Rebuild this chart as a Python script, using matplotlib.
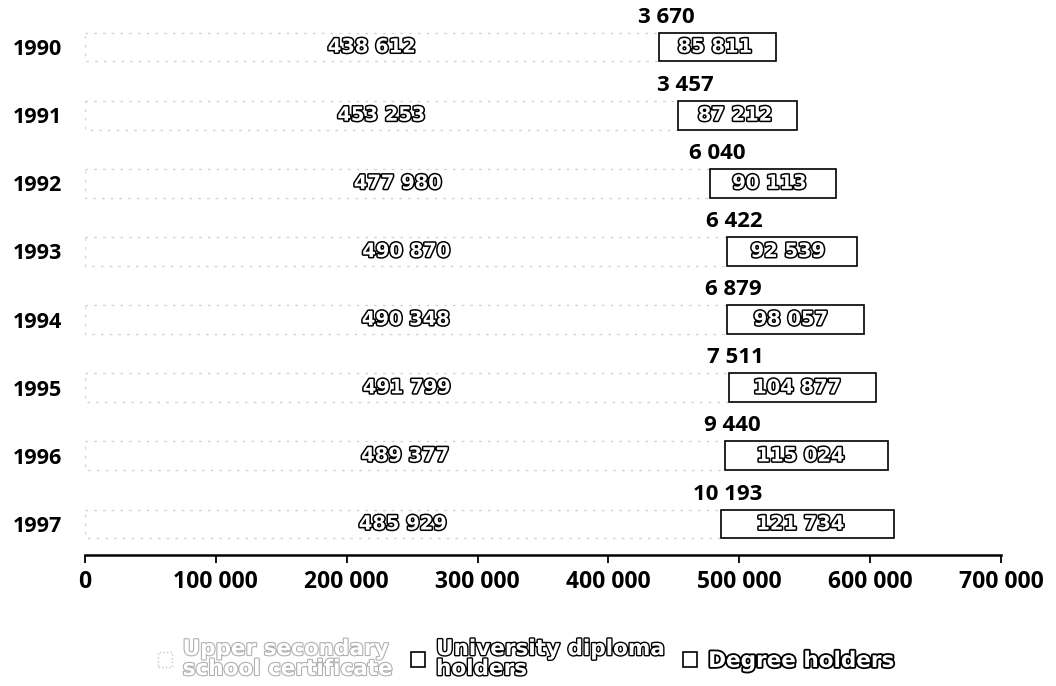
import matplotlib.pyplot as plt
import matplotlib.patheffects as pe
from matplotlib.patches import Patch

years = ["1990", "1991", "1992", "1993", "1994", "1995", "1996", "1997"]
upper_secondary = [438612, 453253, 477980, 490870, 490348, 491799, 489377, 485929]
university_diploma = [85811, 87212, 90113, 92539, 98057, 104877, 115024, 121734]
degree_holders = [3670, 3457, 6040, 6422, 6879, 7511, 9440, 10193]

xticks = [0, 100000, 200000, 300000, 400000, 500000, 600000, 700000]


def spaced(n):
    # thousands separated by a space
    return f"{n:,}".replace(",", " ")


plt.rcParams['font.family'] = ['Open Sans', 'DejaVu Sans']
plt.rcParams['font.weight'] = 'bold'
hollow_font = 'DejaVu Sans'

fig = plt.figure(figsize=(10.56, 6.86), dpi=100)
ax = fig.add_axes([85 / 1056, 1 - 555 / 686, 916 / 1056, 555 / 686])

y = list(range(len(years)))
h = 0.425
outline = [pe.withStroke(linewidth=2.2, foreground='black')]

# upper secondary: white bar with a faint dotted edge
ax.barh(y, upper_secondary, height=h, color='white', edgecolor='#cfcfcf',
        linewidth=0.9, linestyle=(0, (2, 5)))

# university diploma + degree holders sit in one outlined box
left2 = [u for u in upper_secondary]
left3 = [u + d for u, d in zip(upper_secondary, university_diploma)]
ax.barh(y, university_diploma, left=left2, height=h, color='white', edgecolor='none')
ax.barh(y, degree_holders, left=left3, height=h, color='white', edgecolor='none')
box_w = [d + g for d, g in zip(university_diploma, degree_holders)]
ax.barh(y, box_w, left=left2, height=h, fill=False, edgecolor='black', linewidth=1.2)

for i in y:
    ax.text(upper_secondary[i] / 2, i, spaced(upper_secondary[i]), ha='center', va='center',
            family=hollow_font, fontsize=14, fontweight='bold', color='white',
            path_effects=outline)
    ax.text(upper_secondary[i] + university_diploma[i] / 2, i, spaced(university_diploma[i]),
            ha='center', va='center', family=hollow_font, fontsize=14, fontweight='bold',
            color='white', path_effects=outline)
    ax.annotate(spaced(degree_holders[i]), (upper_secondary[i], i - 0.44),
                xytext=(5, 0), textcoords='offset points', ha='center', va='center',
                fontsize=16, fontweight='bold', color='black')

ax.set_xlim(0, 700000)
ax.set_ylim(7.455, -0.69)

ax.set_xticks(xticks)
ax.set_xticklabels([spaced(t) for t in xticks], fontsize=16.5, fontweight='bold')
ax.tick_params(axis='x', direction='out', length=6, width=1.3, pad=5)

ax.set_yticks(y)
ax.set_yticklabels(years, fontsize=15.5, fontweight='bold')
ax.tick_params(axis='y', length=0, pad=52)
for lbl in ax.get_yticklabels():
    lbl.set_horizontalalignment('left')

for s in ['top', 'right', 'left']:
    ax.spines[s].set_visible(False)
ax.spines['bottom'].set_linewidth(1.8)

handles = [
    Patch(facecolor='white', edgecolor='#c8c8c8', linestyle=':', linewidth=1),
    Patch(facecolor='white', edgecolor='black', linewidth=1.2),
    Patch(facecolor='white', edgecolor='black', linewidth=1.2),
]
names = ["Upper secondary\nschool certificate", "University diploma\nholders", "Degree holders"]
leg = fig.legend(handles, names, loc='center', bbox_to_anchor=(526 / 1056, 1 - 659 / 686),
                 ncol=3, frameon=False, prop={'family': hollow_font, 'weight': 'bold', 'size': 15.5},
                 handlelength=0.65, handleheight=0.65, handletextpad=0.5, columnspacing=0.9,
                 borderpad=0)
text_fx = [
    [pe.withStroke(linewidth=1.6, foreground='#b0b0b0')],
    [pe.withStroke(linewidth=2.0, foreground='black')],
    [pe.withStroke(linewidth=2.6, foreground='black')],
]
for txt, fx in zip(leg.get_texts(), text_fx):
    txt.set_color('white')
    txt.set_path_effects(fx)
    txt.set_linespacing(1.0)

fig.savefig('out.png', dpi=100, facecolor='white')
